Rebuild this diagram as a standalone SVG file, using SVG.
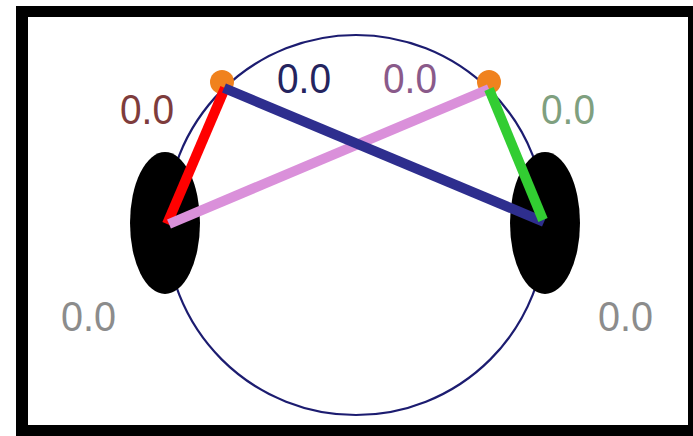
<svg xmlns="http://www.w3.org/2000/svg" width="693" height="436" viewBox="0 0 693 436">
  <style>
    .lbl { font-family: "Liberation Sans", Arial, sans-serif; font-size: 42px; }
    .edge { fill: none; stroke-width: 10; stroke-linecap: butt; }
    .ear { fill: #000; }
    .dot { fill: #f0821e; }
  </style>
  <rect x="16" y="6" width="677" height="430" fill="#000"/>
  <rect x="28" y="17" width="660" height="408" fill="#fff"/>
  <g id="head">
    <circle cx="356" cy="225" r="190" fill="none" stroke="#1c1c70" stroke-width="2.2"/>
  </g>
  <g id="ear-left"><ellipse class="ear" cx="165" cy="223" rx="35" ry="71"/></g>
  <g id="ear-right"><ellipse class="ear" cx="545" cy="223" rx="35" ry="71"/></g>
  <g id="sensor-left"><circle class="dot" cx="222" cy="82" r="12"/></g>
  <g id="sensor-right"><circle class="dot" cx="489" cy="82" r="12"/></g>
  <g id="connectors">
    <line class="edge" x1="225" y1="88" x2="167" y2="224" stroke="#ff0000"/>
    <line class="edge" x1="169" y1="224" x2="489" y2="89" stroke="#da90da"/>
    <line class="edge" x1="224" y1="88" x2="544" y2="222" stroke="#2e2e8e"/>
    <line class="edge" x1="489" y1="89" x2="543" y2="220" stroke="#32cd32"/>
  </g>
  <g id="labels">
    <text class="lbl" x="120" y="124" fill="#7e3c3c" textLength="54" lengthAdjust="spacingAndGlyphs">0.0</text>
    <text class="lbl" x="277" y="93" fill="#24245e" textLength="54" lengthAdjust="spacingAndGlyphs">0.0</text>
    <text class="lbl" x="383" y="93" fill="#8a5a8a" textLength="54" lengthAdjust="spacingAndGlyphs">0.0</text>
    <text class="lbl" x="541" y="124" fill="#7fa07f" textLength="54" lengthAdjust="spacingAndGlyphs">0.0</text>
    <text class="lbl" x="61" y="331" fill="#8c8c8c" textLength="55" lengthAdjust="spacingAndGlyphs">0.0</text>
    <text class="lbl" x="598" y="331" fill="#8c8c8c" textLength="55" lengthAdjust="spacingAndGlyphs">0.0</text>
  </g>
</svg>
